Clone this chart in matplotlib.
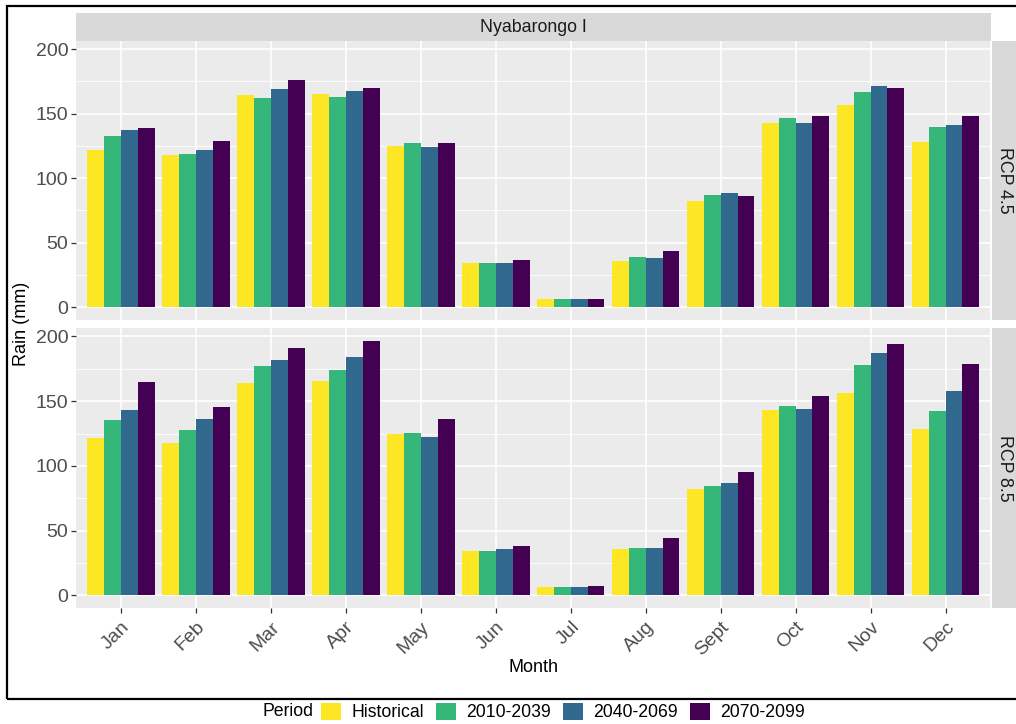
import matplotlib
matplotlib.use("Agg")
import matplotlib.pyplot as plt
from matplotlib.patches import Patch, Rectangle
import numpy as np

plt.rcParams['font.family'] = ['Liberation Sans', 'DejaVu Sans']

months = ["Jan", "Feb", "Mar", "Apr", "May", "Jun", "Jul", "Aug", "Sept", "Oct", "Nov", "Dec"]
periods = ["Historical", "2010-2039", "2040-2069", "2070-2099"]
colors = ["#FDE725", "#35B779", "#31688E", "#440154"]
scenarios = ["RCP 4.5", "RCP 8.5"]
station = "Nyabarongo I"

historical = [121.7, 117.7, 164.4, 165.4, 124.6, 34.2, 6.1, 36.1, 82.0, 142.8, 156.6, 128.2]

rcp45_2010 = [133.0, 118.4, 161.9, 163.2, 126.9, 34.5, 6.7, 39.1, 87.0, 146.7, 166.8, 140.0]
rcp45_2040 = [137.7, 121.7, 169.1, 167.3, 124.3, 34.7, 6.7, 38.1, 88.8, 142.9, 171.2, 141.6]
rcp45_2070 = [139.0, 128.7, 176.0, 170.1, 126.9, 36.8, 6.7, 43.5, 86.5, 148.5, 170.1, 148.3]

rcp85_2010 = [135.2, 128.0, 177.4, 174.3, 125.7, 33.9, 6.4, 36.8, 84.1, 146.3, 177.6, 142.2]
rcp85_2040 = [143.2, 136.5, 182.0, 183.8, 122.4, 35.5, 6.4, 36.5, 86.9, 144.0, 186.9, 157.6]
rcp85_2070 = [164.8, 145.8, 191.3, 196.7, 136.5, 38.3, 7.5, 44.0, 95.6, 154.0, 194.3, 178.4]

data = {
    "RCP 4.5": [historical, rcp45_2010, rcp45_2040, rcp45_2070],
    "RCP 8.5": [historical, rcp85_2010, rcp85_2040, rcp85_2070],
}

W, H = 1016, 724
fig = plt.figure(figsize=(W / 100, H / 100), dpi=100)

def fx(px):
    return px / W

def fy(py):
    return 1 - py / H

left_px, right_px = 76, 990.5
panels_px = [(40.7, 320.0), (328.0, 608.0)]

ymax_data = max(max(s) for sc in data.values() for s in sc)
ylo, yhi = -0.05 * ymax_data, ymax_data * 1.05

x = np.arange(len(months))
bw = 0.9 / len(periods)

axes = []
for i, sc in enumerate(scenarios):
    top, bot = panels_px[i]
    ax = fig.add_axes([fx(left_px), fy(bot), fx(right_px - left_px), (bot - top) / H])
    ax.set_facecolor("#EBEBEB")
    for j, (p, c) in enumerate(zip(periods, colors)):
        ax.bar(x - 0.45 + bw * (j + 0.5), data[sc][j], width=bw, color=c, label=p, zorder=3, linewidth=0)
    ax.set_xlim(-0.6, len(months) - 0.4)
    ax.set_ylim(ylo, yhi)
    ax.set_yticks([0, 50, 100, 150, 200])
    ax.set_yticks([25, 75, 125, 175], minor=True)
    ax.set_xticks(x)
    ax.grid(which="major", color="white", linewidth=1.2, zorder=0)
    ax.grid(which="minor", axis="y", color="white", linewidth=0.6, zorder=0)
    ax.set_axisbelow(True)
    for s in ax.spines.values():
        s.set_visible(False)
    ax.tick_params(axis="both", which="major", length=3.5, width=0.9, color="#333333",
                   labelcolor="#4D4D4D", labelsize=14, pad=2)
    ax.tick_params(axis="y", which="minor", length=0)
    if i == 0:
        ax.tick_params(axis="x", which="major", length=0, labelbottom=False)
    else:
        ax.set_xticklabels(months, rotation=45, ha="right", va="top", rotation_mode="anchor")
        ax.tick_params(axis="x", pad=4)
    # right strip
    fig.patches.append(Rectangle((fx(991.5), fy(bot)), fx(W - 991.5 + 5), (bot - top) / H,
                                 transform=fig.transFigure, facecolor="#D9D9D9",
                                 edgecolor="none", zorder=1))
    fig.text(fx(1004), fy((top + bot) / 2), sc, rotation=-90, ha="center", va="center",
             fontsize=12.8, color="#1A1A1A")
    axes.append(ax)

# top strip
fig.patches.append(Rectangle((fx(left_px), fy(40.7)), fx(right_px - left_px), (40.7 - 13) / H,
                             transform=fig.transFigure, facecolor="#D9D9D9",
                             edgecolor="none", zorder=1))
fig.text(fx((left_px + right_px) / 2), fy(27), station, ha="center", va="center",
         fontsize=12.8, color="#1A1A1A")

fig.text(fx(21), fy(324), "Rain (mm)", rotation=90, ha="center", va="center", fontsize=13, color="black")
fig.text(fx(533), fy(668), "Month", ha="center", va="center", fontsize=13, color="black")

# border
fig.patches.append(Rectangle((fx(7), fy(699)), fx(W), (699 - 5.7) / H,
                             transform=fig.transFigure, facecolor="none",
                             edgecolor="black", linewidth=1.6, zorder=5))

# legend
handles = [Patch(facecolor=c, edgecolor="none", label=p) for p, c in zip(periods, colors)]
leg = fig.legend(handles=handles, loc="center", bbox_to_anchor=(fx(563), fy(712)), ncol=4,
                 frameon=False, fontsize=12.7, handlelength=1.15, handleheight=1.15,
                 handletextpad=0.6, columnspacing=0.65, borderpad=0, borderaxespad=0)
fig.text(fx(262), fy(712), "Period", ha="left", va="center", fontsize=12.7, color="black")

fig.savefig("out.png", dpi=100)
